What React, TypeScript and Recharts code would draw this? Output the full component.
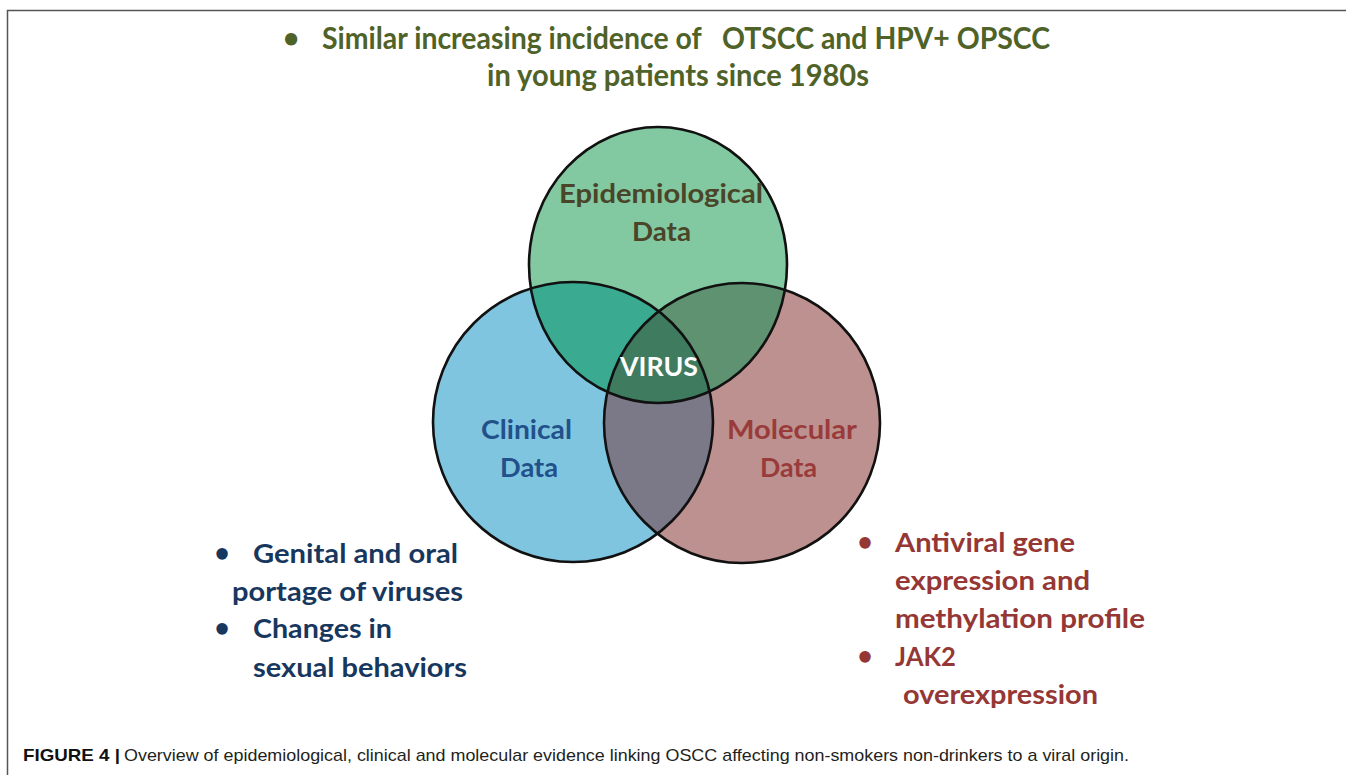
import { Scatter, ScatterChart, XAxis, YAxis } from 'recharts';

const W = 1346;
const H = 775;

// Venn sets (page units: 1 unit = 1 px on both axes)
const setNames = ['Clinical', 'Molecular', 'Epidemiological'];
const setX = [573, 742, 658];
const setY = [422, 423, 265];
const setRx = [140, 138, 129];
const setRy = [140, 140, 138];

// intersections, as indexes into setNames
const overlapSets = [
  [0, 2],
  [1, 2],
  [0, 1],
  [0, 1, 2],
];

// region labels: text and where its first line sits
const labelNames = ['Epidemiological', 'Clinical', 'Molecular', 'Core'];
const labelText = [['Epidemiological', 'Data'], ['Clinical', 'Data'], ['Molecular', 'Data'], ['VIRUS']];
const labelX = [661, 526.5, 792, 659];
const labelY = [203, 439, 439, 376];

const X_DOMAIN = [0, W];
const Y_DOMAIN = [0, H];
const SX = W / (X_DOMAIN[1] - X_DOMAIN[0]);
const SY = H / (Y_DOMAIN[1] - Y_DOMAIN[0]);

const SET_FILL: Record<string, string> = {
  Clinical: '#80c5e0',
  Molecular: '#bd918f',
  Epidemiological: '#82c8a1',
};

const OVERLAP_FILL: Record<string, string> = {
  'Clinical+Epidemiological': '#3aab91',
  'Molecular+Epidemiological': '#5f9271',
  'Clinical+Molecular': '#7b7888',
  'Clinical+Molecular+Epidemiological': '#3e7b5f',
};

// label look: colour, second line offset and the width each line spans
const LABEL_STYLE: Record<string, { color: string; widths: number[]; dx: number[] }> = {
  Epidemiological: { color: '#4a4529', widths: [204, 59], dx: [0, 0.5] },
  Clinical: { color: '#22508a', widths: [91, 58], dx: [0, 2.5] },
  Molecular: { color: '#9a3b3b', widths: [130, 57], dx: [0, -3.5] },
  Core: { color: '#ffffff', widths: [78], dx: [0] },
};

const circles = setNames.map((name, i) => ({
  name,
  x: setX[i],
  y: setY[i],
  rx: setRx[i],
  ry: setRy[i],
}));

const overlaps = overlapSets.map((ids) => ({
  name: ids.map((i) => setNames[i]).join('+'),
  x: setX[ids[0]],
  y: setY[ids[0]],
  rx: setRx[ids[0]],
  ry: setRy[ids[0]],
  clips: ids.slice(1).map((i) => setNames[i]),
}));

const labels = labelNames.map((name, i) => ({
  name,
  x: labelX[i],
  y: labelY[i],
  lines: labelText[i],
}));

const FONT = 'Lato, "Open Sans", sans-serif';

const CircleFill = (props: any) => {
  const { cx, cy, payload } = props;
  const rx = payload.rx * SX;
  const ry = payload.ry * SY;
  return (
    <g>
      <clipPath id={`venn-clip-${payload.name}`}>
        <ellipse cx={cx} cy={cy} rx={rx} ry={ry} />
      </clipPath>
      <ellipse cx={cx} cy={cy} rx={rx} ry={ry} fill={SET_FILL[payload.name]} />
    </g>
  );
};

const OverlapFill = (props: any) => {
  const { cx, cy, payload } = props;
  let node = (
    <ellipse
      cx={cx}
      cy={cy}
      rx={payload.rx * SX}
      ry={payload.ry * SY}
      fill={OVERLAP_FILL[payload.name]}
    />
  );
  for (const c of payload.clips) {
    node = <g clipPath={`url(#venn-clip-${c})`}>{node}</g>;
  }
  return node;
};

const CircleOutline = (props: any) => {
  const { cx, cy, payload } = props;
  return (
    <ellipse
      cx={cx}
      cy={cy}
      rx={payload.rx * SX}
      ry={payload.ry * SY}
      fill="none"
      stroke="#111"
      strokeWidth={2.6}
    />
  );
};

const RegionLabel = (props: any) => {
  const { cx, cy, payload } = props;
  const st = LABEL_STYLE[payload.name];
  return (
    <g>
      {payload.lines.map((t: string, i: number) => (
        <text
          key={t}
          x={cx + st.dx[i]}
          y={cy + i * 38}
          textAnchor="middle"
          fontFamily={FONT}
          fontWeight={700}
          fontSize={27}
          fill={st.color}
          textLength={st.widths[i]}
          lengthAdjust="spacingAndGlyphs"
        >
          {t}
        </text>
      ))}
    </g>
  );
};

type Line = { text: string; x: number; y: number; w: number };

const T = ({ line, size, color }: { line: Line; size: number; color: string }) => (
  <text
    x={line.x}
    y={line.y}
    fontFamily={FONT}
    fontWeight={700}
    fontSize={size}
    fill={color}
    textLength={line.w}
    lengthAdjust="spacingAndGlyphs"
    style={{ whiteSpace: 'pre' }}
  >
    {line.text}
  </text>
);

const Bullet = ({ x, y, size, color }: { x: number; y: number; size: number; color: string }) => (
  <text x={x} y={y} fontFamily={FONT} fontWeight={700} fontSize={size} fill={color} textAnchor="middle">
    •
  </text>
);

const titleLines: Line[] = [
  { text: 'Similar increasing incidence of   OTSCC and HPV+ OPSCC', x: 322, y: 49, w: 728 },
  { text: 'in young patients since 1980s', x: 487, y: 86, w: 382 },
];

const clinicalNotes: Line[] = [
  { text: 'Genital and oral', x: 253, y: 563, w: 205 },
  { text: 'portage of viruses', x: 232, y: 601, w: 231 },
  { text: 'Changes in', x: 253, y: 638, w: 139 },
  { text: 'sexual behaviors', x: 253, y: 677, w: 214 },
];

const molecularNotes: Line[] = [
  { text: 'Antiviral gene', x: 895, y: 552, w: 180 },
  { text: 'expression and', x: 895, y: 590, w: 195 },
  { text: 'methylation profile', x: 895, y: 628, w: 250 },
  { text: 'JAK2', x: 895, y: 666, w: 61 },
  { text: 'overexpression', x: 903, y: 704, w: 195 },
];

export default function App() {
  return (
    <div style={{ width: W, height: H, background: '#fff' }}>
      <style>{'body{margin:0;background:#fff}'}</style>
      <ScatterChart width={W} height={H} margin={{ top: 0, right: 0, bottom: 0, left: 0 }}>
        <XAxis type="number" dataKey="x" domain={X_DOMAIN} hide />
        <YAxis type="number" dataKey="y" domain={Y_DOMAIN} reversed hide />

        <path d={`M7.5 ${H} V10.5 H${W}`} fill="none" stroke="#555" strokeWidth={1.5} />

        <Bullet x={291} y={48} size={28} color="#4f6228" />
        {titleLines.map((l) => (
          <T key={l.text} line={l} size={31} color="#4f6228" />
        ))}

        <Bullet x={222} y={562} size={26} color="#17375e" />
        <Bullet x={222} y={637} size={26} color="#17375e" />
        {clinicalNotes.map((l) => (
          <T key={l.text} line={l} size={27} color="#17375e" />
        ))}

        <Bullet x={865} y={551} size={26} color="#953735" />
        <Bullet x={865} y={665} size={26} color="#953735" />
        {molecularNotes.map((l) => (
          <T key={l.text} line={l} size={27} color="#953735" />
        ))}

        <text
          x={23}
          y={761}
          fontFamily="'Liberation Sans', Arial, sans-serif"
          fontWeight={700}
          fontSize={17}
          fill="#111"
          textLength={97}
          lengthAdjust="spacingAndGlyphs"
        >
          FIGURE 4 |
        </text>
        <text
          x={124}
          y={761}
          fontFamily="'Liberation Sans', Arial, sans-serif"
          fontSize={17}
          fill="#231f20"
          textLength={1005}
          lengthAdjust="spacingAndGlyphs"
        >
          Overview of epidemiological, clinical and molecular evidence linking OSCC affecting non-smokers non-drinkers to a viral origin.
        </text>

        <Scatter data={circles} shape={CircleFill} isAnimationActive={false} />
        <Scatter data={overlaps} shape={OverlapFill} isAnimationActive={false} />
        <Scatter data={circles} shape={CircleOutline} isAnimationActive={false} />
        <Scatter data={labels} shape={RegionLabel} isAnimationActive={false} />
      </ScatterChart>
    </div>
  );
}
